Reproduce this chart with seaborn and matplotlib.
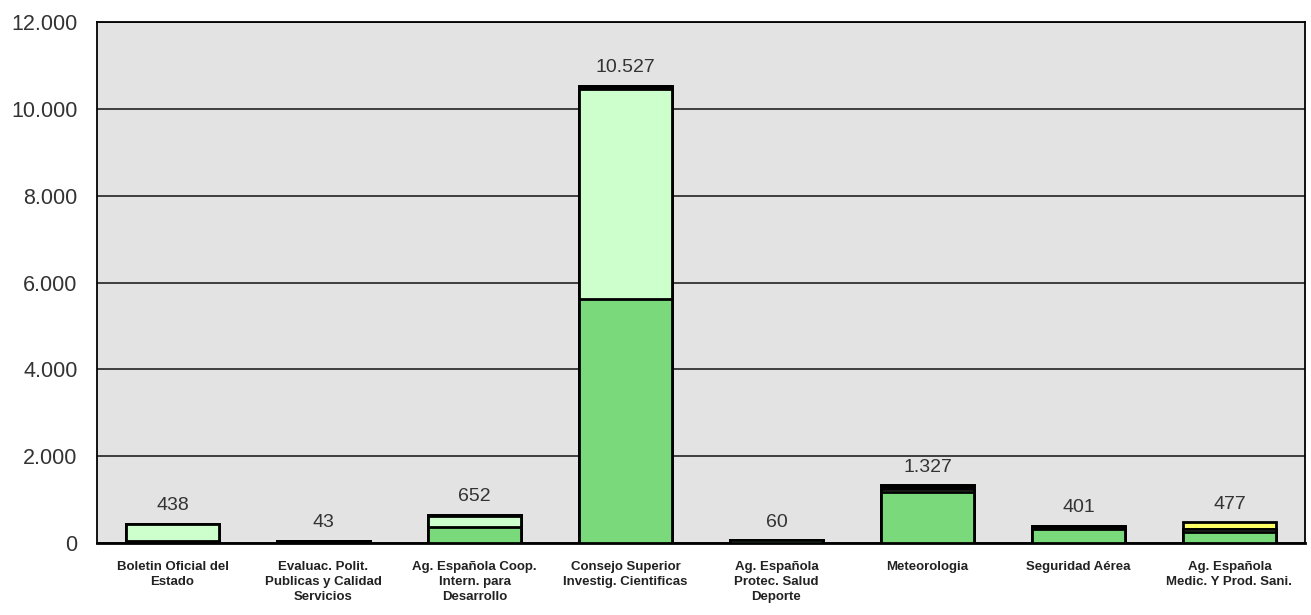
import pandas as pd
import matplotlib.pyplot as plt
import matplotlib.ticker as mticker
import seaborn as sns

# Organismos (eje X)
organismos = [
    "Boletin Oficial del\nEstado",
    "Evaluac. Polit.\nPublicas y Calidad\nServicios",
    "Ag. Española Coop.\nIntern. para\nDesarrollo",
    "Consejo Superior\nInvestig. Cientificas",
    "Ag. Española\nProtec. Salud\nDeporte",
    "Meteorologia",
    "Seguridad Aérea",
    "Ag. Española\nMedic. Y Prod. Sani.",
]

# Segmentos apilados (de abajo hacia arriba)
verde_oscuro = [40, 43, 370, 5620, 60, 1180, 320, 245]
verde_claro = [398, 0, 262, 4827, 0, 70, 0, 80]
negro = [0, 0, 20, 80, 0, 77, 81, 0]
amarillo = [0, 0, 0, 0, 0, 0, 0, 152]

series = [verde_oscuro, verde_claro, negro, amarillo]
colores = ["#7AD97A", "#CCFFCC", "#000000", "#FFFF66"]

sns.set_style("white")
plt.rcParams['font.family'] = ['Liberation Sans', 'DejaVu Sans']

fig = plt.figure(figsize=(13.11, 6.15), dpi=100)
ax = fig.add_axes([0.074, 0.117, 0.9214, 0.8472])
ax.set_facecolor("#E3E3E3")

# cumulative heights, draw tallest first so lower segments sit on top
df = pd.DataFrame({"org": organismos})
acum = [0] * len(organismos)
capas = []
for valores in series:
    acum = [a + v for a, v in zip(acum, valores)]
    capas.append(list(acum))

for altura, color in reversed(list(zip(capas, colores))):
    df["altura"] = altura
    sns.barplot(data=df, x="org", y="altura", color=color, width=0.62,
                edgecolor="black", linewidth=2, saturation=1, ax=ax, zorder=3)

# value labels
totales = capas[-1]
for i, tot in enumerate(totales):
    etiqueta = f"{tot:,.0f}".replace(",", ".")
    ax.annotate(etiqueta, (i, tot), xytext=(0, 7), textcoords="offset points",
                ha="center", va="bottom", fontsize=14, color="#333333")

ax.set_ylim(0, 12000)
ax.set_xlim(-0.5, len(organismos) - 0.5)
ax.set_yticks(range(0, 12001, 2000))
ax.yaxis.set_major_formatter(mticker.FuncFormatter(lambda v, p: f"{v:,.0f}".replace(",", ".")))
ax.yaxis.grid(True, color="#222222", linewidth=1.2)
ax.set_axisbelow(True)

ax.set_xticks(range(len(organismos)))
ax.set_xticklabels(organismos, fontsize=9.5, fontweight="bold", color="#222222",
                   linespacing=1.3)
ax.set_xticks([i + 0.5 for i in range(len(organismos) - 1)], minor=True)
ax.tick_params(axis="x", which="major", length=0, pad=13)
ax.tick_params(axis="x", which="minor", length=6, width=1.2, color="black", direction="out")
ax.tick_params(axis="y", length=8, width=1.2, color="black", direction="out",
               labelsize=15.5, labelcolor="#333333", pad=6)
ax.set_xlabel("")
ax.set_ylabel("")

for s in ax.spines.values():
    s.set_visible(True)
    s.set_color("black")
    s.set_linewidth(1.3)
ax.spines["bottom"].set_linewidth(2)

plt.savefig("out.png", dpi=100)
